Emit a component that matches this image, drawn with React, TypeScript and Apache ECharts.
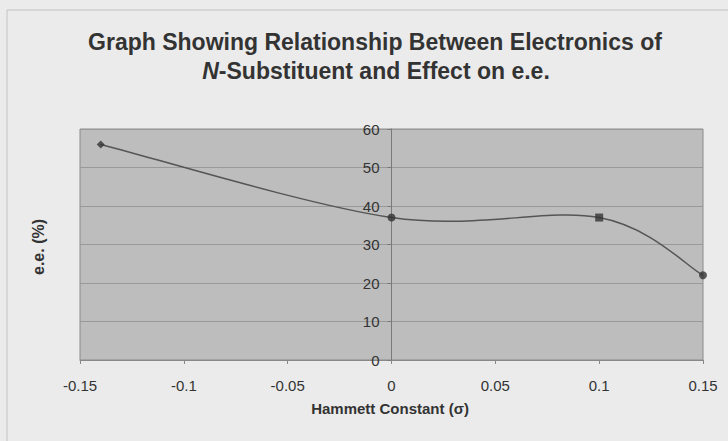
import React, { useEffect, useRef } from "react";
import * as echarts from "echarts";

const sigmaValues = [-0.14, 0, 0.1, 0.15];
const eeValues = [56, 37, 37, 22];
const xTicks = [-0.15, -0.1, -0.05, 0, 0.05, 0.1, 0.15];
const markerShapes = ["diamond", "circle", "rect", "circle"];

export default function App() {
  const ref = useRef<HTMLDivElement>(null);
  useEffect(() => {
    if (!ref.current) return;
    const chart = echarts.init(ref.current, undefined, { renderer: "svg" });
    const font = "'Liberation Sans', Arial, sans-serif";
    const points = sigmaValues.map((x, i) => [x, eeValues[i]]);
    const gridLeft = 80;
    chart.setOption({
      animation: false,
      backgroundColor: "#ebebeb",
      textStyle: { fontFamily: font },
      graphic: [
        {
          type: "rect",
          shape: { x: 7, y: 10, width: 760, height: 470 },
          style: { fill: "none", stroke: "#c4c4c4", lineWidth: 1 },
          silent: true,
        },
        {
          type: "text",
          x: 375,
          y: 42,
          style: {
            text: "Graph Showing Relationship Between Electronics of",
            font: `bold 23px ${font}`,
            fill: "#333",
            align: "center",
            verticalAlign: "middle",
          },
        },
        {
          type: "text",
          x: 376,
          y: 71,
          style: {
            text: "{i|N}-Substituent and Effect on e.e.",
            align: "center",
            verticalAlign: "middle",
            rich: {
              i: { font: `italic bold 23px ${font}`, fill: "#333" },
            },
            font: `bold 23px ${font}`,
            fill: "#333",
          },
        },
        {
          type: "text",
          x: 38,
          y: 247,
          rotation: Math.PI / 2,
          style: {
            text: "e.e. (%)",
            font: `bold 16px ${font}`,
            fill: "#333",
            align: "center",
            verticalAlign: "middle",
          },
        },
        {
          type: "text",
          x: 390,
          y: 408,
          style: {
            text: "Hammett Constant (σ)",
            font: `bold 15px ${font}`,
            fill: "#333",
            align: "center",
            verticalAlign: "middle",
          },
        },
      ],
      grid: {
        left: gridLeft,
        right: 25,
        top: 129,
        bottom: 81,
        show: true,
        backgroundColor: "#bdbdbd",
        borderColor: "#8a8a8a",
        borderWidth: 1,
        outerBoundsMode: "none",
        containLabel: false,
      },
      xAxis: {
        type: "value",
        min: -0.15,
        max: 0.15,
        interval: 0.05,
        axisLine: { show: true, onZero: false, lineStyle: { color: "#888" } },
        axisTick: { show: true, inside: false, length: 4, lineStyle: { color: "#888" } },
        splitLine: { show: false },
        axisLabel: {
          fontFamily: font,
          fontSize: 15,
          color: "#333",
          margin: 18,
          customValues: xTicks,
          formatter: (v: number) => String(Math.round(v * 100) / 100),
        },
      },
      yAxis: {
        type: "value",
        min: 0,
        max: 60,
        interval: 10,
        offset: 0,
        axisLine: { show: true, onZero: false, lineStyle: { color: "#7a7a7a" } },
        axisTick: { show: true, length: 4, lineStyle: { color: "#7a7a7a" } },
        splitLine: { show: true, lineStyle: { color: "#999", width: 1 } },
        axisLabel: { fontFamily: font, fontSize: 15, color: "#333", margin: 12 },
      },
      series: [
        {
          type: "custom",
          coordinateSystem: "cartesian2d",
          clip: false,
          silent: true,
          data: points,
          renderItem: (params: any, api: any) => {
            if (params.dataIndex !== 0) return null;
            const pts = points.map((p) => api.coord(p));
            let d = `M${pts[0][0]},${pts[0][1]}`;
            for (let i = 0; i < pts.length - 1; i++) {
              const p0 = pts[i - 1] || pts[i];
              const p1 = pts[i];
              const p2 = pts[i + 1];
              const p3 = pts[i + 2] || pts[i + 1];
              const c1x = p1[0] + (p2[0] - p0[0]) / 6;
              const c1y = p1[1] + (p2[1] - p0[1]) / 6;
              const c2x = p2[0] - (p3[0] - p1[0]) / 6;
              const c2y = p2[1] - (p3[1] - p1[1]) / 6;
              d += ` C${c1x},${c1y} ${c2x},${c2y} ${p2[0]},${p2[1]}`;
            }
            return {
              type: "path",
              shape: { pathData: d },
              style: { fill: "none", stroke: "#555", lineWidth: 1.5 },
            };
          },
        },
        {
          type: "scatter",
          data: points.map((p, i) => ({ value: p, symbol: markerShapes[i] })),
          symbolSize: 8,
          itemStyle: { color: "#333" },
          z: 3,
        },
      ],
    });
    // Move the y axis (line, ticks and labels) to x = 0, as the reference does.
    const zeroPx = chart.convertToPixel({ xAxisIndex: 0 }, 0) as number;
    chart.setOption({ yAxis: { offset: -(zeroPx - gridLeft) } });
    return () => chart.dispose();
  }, []);
  return <div ref={ref} style={{ position: "absolute", left: 0, top: 0, width: 728, height: 441 }} />;
}
